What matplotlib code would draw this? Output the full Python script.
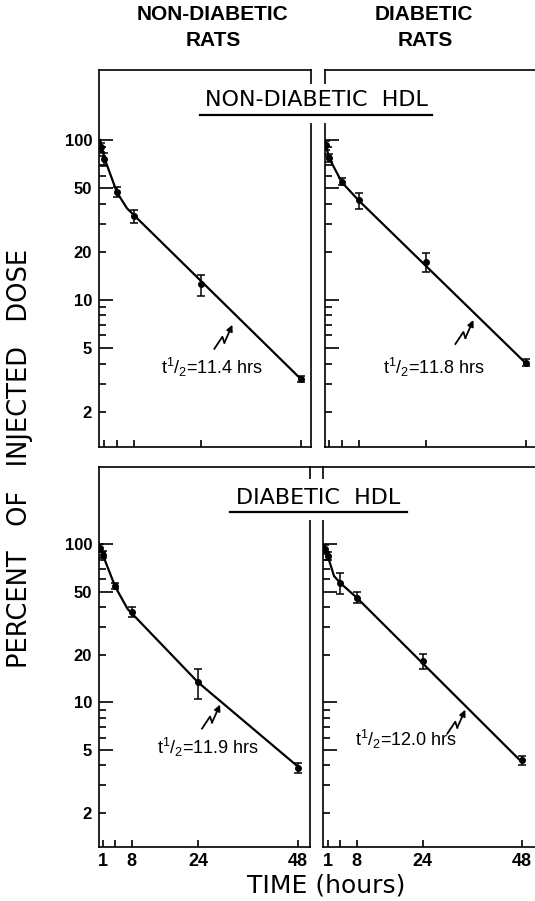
import matplotlib
matplotlib.use('Agg')
import matplotlib.pyplot as plt
from matplotlib.patches import Rectangle
from matplotlib.lines import Line2D
from matplotlib.ticker import FixedLocator, FixedFormatter, NullFormatter

# sampling times (hours)
times = [0.25, 1, 4, 8, 24, 48]

# percent of injected dose, mean and error, per panel
nd_rats_nd_hdl = [90, 76, 47.5, 33.5, 12.5, 3.2]
nd_rats_nd_hdl_err = [6, 7, 3.5, 3, 1.9, 0.15]
d_rats_nd_hdl = [93, 77, 55, 42, 17.3, 4.05]
d_rats_nd_hdl_err = [6, 4.5, 3, 4.7, 2.3, 0.2]
nd_rats_d_hdl = [95, 86, 54.5, 37.5, 13.4, 3.85]
nd_rats_d_hdl_err = [6, 4.5, 2.6, 2.7, 2.9, 0.28]
d_rats_d_hdl = [93, 84, 57, 46, 18.2, 4.3]
d_rats_d_hdl_err = [6, 5, 8.5, 3.7, 2, 0.3]

# drawn decay curves (knots)
fit_t_tl = [0, 1, 4, 6.4, 48]
fit_v_tl = [100, 77, 47, 37.4, 3.2]
fit_t_tr = [0, 1, 4, 8, 48]
fit_v_tr = [98, 77, 54.5, 42, 4.0]
fit_t_bl = [0, 1, 4, 7, 24, 48]
fit_v_bl = [102, 86, 54, 39, 13.4, 3.95]
fit_t_br = [0, 1, 2.5, 4, 8, 48]
fit_v_br = [97, 84, 63, 57, 46, 4.2]

half_lives = ['11.4', '11.8', '11.9', '12.0']

y_major = [5, 10, 50, 100]
y_minor = [2, 3, 4, 6, 7, 8, 9, 20, 30, 40, 60, 70, 80, 90]
x_ticks = [1, 4, 8, 24, 48]
x_ticklabels = ['1', '', '8', '24', '48']

W, H = 535, 901
narrow = ['Liberation Sans', 'DejaVu Sans']
plt.rcParams['font.family'] = narrow
plt.rcParams['mathtext.default'] = 'regular'

fig = plt.figure(figsize=(W / 100, H / 100), dpi=100)


def add_ax(x0, x1, y0, y1):
    return fig.add_axes([x0 / W, 1 - y1 / H, (x1 - x0) / W, (y1 - y0) / H])


def setup(ax, xlim, ylim, left_labels, bottom_labels, right_spine):
    ax.set_yscale('log')
    ax.set_xlim(*xlim)
    ax.set_ylim(*ylim)
    for s in ax.spines.values():
        s.set_linewidth(1.2)
    ax.spines['right'].set_visible(right_spine)
    ax.yaxis.set_major_locator(FixedLocator(y_major))
    ax.yaxis.set_minor_locator(FixedLocator(y_minor))
    if left_labels:
        ax.yaxis.set_major_formatter(FixedFormatter([str(v) for v in y_major]))
        ax.yaxis.set_minor_formatter(FixedFormatter(
            ['2' if v == 2 else '20' if v == 20 else '' for v in y_minor]))
    else:
        ax.yaxis.set_major_formatter(NullFormatter())
        ax.yaxis.set_minor_formatter(NullFormatter())
    ax.tick_params(axis='y', which='major', direction='in', length=10, width=1.2,
                   labelsize=12, pad=5, right=False)
    ax.tick_params(axis='y', which='minor', direction='in', length=5, width=1.2,
                   labelsize=12, pad=5, right=False)
    ax.set_xticks(x_ticks)
    ax.set_xticklabels(x_ticklabels if bottom_labels else [''] * len(x_ticks))
    ax.tick_params(axis='x', direction='in', length=5, width=1.2, labelsize=13,
                   pad=4, top=False)
    ax.xaxis.set_minor_locator(FixedLocator([]))
    for lab in ax.get_yticklabels() + ax.get_yticklabels(minor=True) + ax.get_xticklabels():
        lab.set_fontweight('bold')


def bolt(ax, t_tip, v_tip):
    # lightning-style pointer, offsets in pixels relative to the tip
    tx, ty = ax.transData.transform((t_tip, v_tip))
    offs = [(-18, -24), (-10, -12), (-8, -18), (0, 0)]
    pts = [ax.transData.inverted().transform((tx + dx, ty + dy)) for dx, dy in offs]
    ax.plot([p[0] for p in pts[:-1]], [p[1] for p in pts[:-1]], color='black', lw=1.3)
    ax.annotate('', xy=pts[-1], xytext=pts[-2],
                arrowprops=dict(arrowstyle='-|>', color='black', lw=1.3,
                                mutation_scale=9, shrinkA=0, shrinkB=0))


panels = [
    # axes box (px), xlim, ylim, data, err, fit, left labels, bottom labels, right spine, text pos, tip pos
    ((99, 311, 70, 447), (-0.3, 50.4), (1.205, 274), nd_rats_nd_hdl, nd_rats_nd_hdl_err,
     (fit_t_tl, fit_v_tl), True, False, True, (14.5, 3.76), (31.6, 7.0)),
    ((325, 535, 70, 447), (0.0, 50.1), (1.205, 274), d_rats_nd_hdl, d_rats_nd_hdl_err,
     (fit_t_tr, fit_v_tr), False, False, False, (13.9, 3.76), (35.4, 7.5)),
    ((99, 310, 467, 847), (0.1, 51.0), (1.22, 308), nd_rats_d_hdl, nd_rats_d_hdl_err,
     (fit_t_bl, fit_v_bl), True, True, True, (14.1, 5.17), (29.3, 9.7)),
    ((323, 535, 467, 847), (-0.17, 51.2), (1.22, 308), d_rats_d_hdl, d_rats_d_hdl_err,
     (fit_t_br, fit_v_br), False, True, False, (7.6, 5.8), (34.3, 9.0)),
]

for i, (box, xl, yl, vals, errs, fit, ll, bl, rs, tpos, tip) in enumerate(panels):
    ax = add_ax(*box)
    setup(ax, xl, yl, ll, bl, rs)
    ax.plot(fit[0], fit[1], color='black', lw=1.6, zorder=2)
    ax.errorbar(times, vals, yerr=errs, fmt='o', color='black', ms=4, capsize=3,
                elinewidth=1.1, capthick=1.1, zorder=3)
    ax.text(tpos[0], tpos[1], r't$^1$/$_2$=' + half_lives[i] + ' hrs', fontsize=13,
            ha='left', va='center')
    bolt(ax, tip[0], tip[1])

# white gaps in the inner spines behind the row titles
fig.add_artist(Rectangle((300 / W, 1 - 123 / H), 35 / W, 39 / H, transform=fig.transFigure,
                         facecolor='white', edgecolor='none', zorder=5))
fig.add_artist(Rectangle((300 / W, 1 - 520 / H), 35 / W, 41 / H, transform=fig.transFigure,
                         facecolor='white', edgecolor='none', zorder=5))
# bottom row top frame is continuous
fig.add_artist(Line2D([310 / W, 323 / W], [1 - 467 / H, 1 - 467 / H], transform=fig.transFigure,
                      color='black', lw=1.2, zorder=5))

fig.text(316 / W, 1 - 100 / H, 'NON-DIABETIC  HDL', fontsize=16, ha='center', va='center',
         family='DejaVu Sans', zorder=6)
fig.add_artist(Line2D([200 / W, 432 / W], [1 - 115 / H, 1 - 115 / H], transform=fig.transFigure,
                      color='black', lw=1.6, zorder=6))
fig.text(318 / W, 1 - 498 / H, 'DIABETIC  HDL', fontsize=16, ha='center', va='center',
         family='DejaVu Sans', zorder=6)
fig.add_artist(Line2D([230 / W, 407 / W], [1 - 512 / H, 1 - 512 / H], transform=fig.transFigure,
                      color='black', lw=1.6, zorder=6))

# column headers
hdr = dict(fontsize=15, fontweight='bold', ha='center', va='center')
fig.text(213 / W, 1 - 15 / H, 'NON-DIABETIC', **hdr)
fig.text(213 / W, 1 - 40 / H, 'RATS', **hdr)
fig.text(424 / W, 1 - 15 / H, 'DIABETIC', **hdr)
fig.text(425 / W, 1 - 40 / H, 'RATS', **hdr)

fig.text(20 / W, 1 - 458 / H, 'PERCENT   OF   INJECTED   DOSE', fontsize=18.5, rotation=90,
         ha='center', va='center', family='DejaVu Sans')
fig.text(326 / W, 1 - 885 / H, 'TIME (hours)', fontsize=18, ha='center', va='center',
         family='DejaVu Sans')

fig.savefig('out.png', dpi=100)
